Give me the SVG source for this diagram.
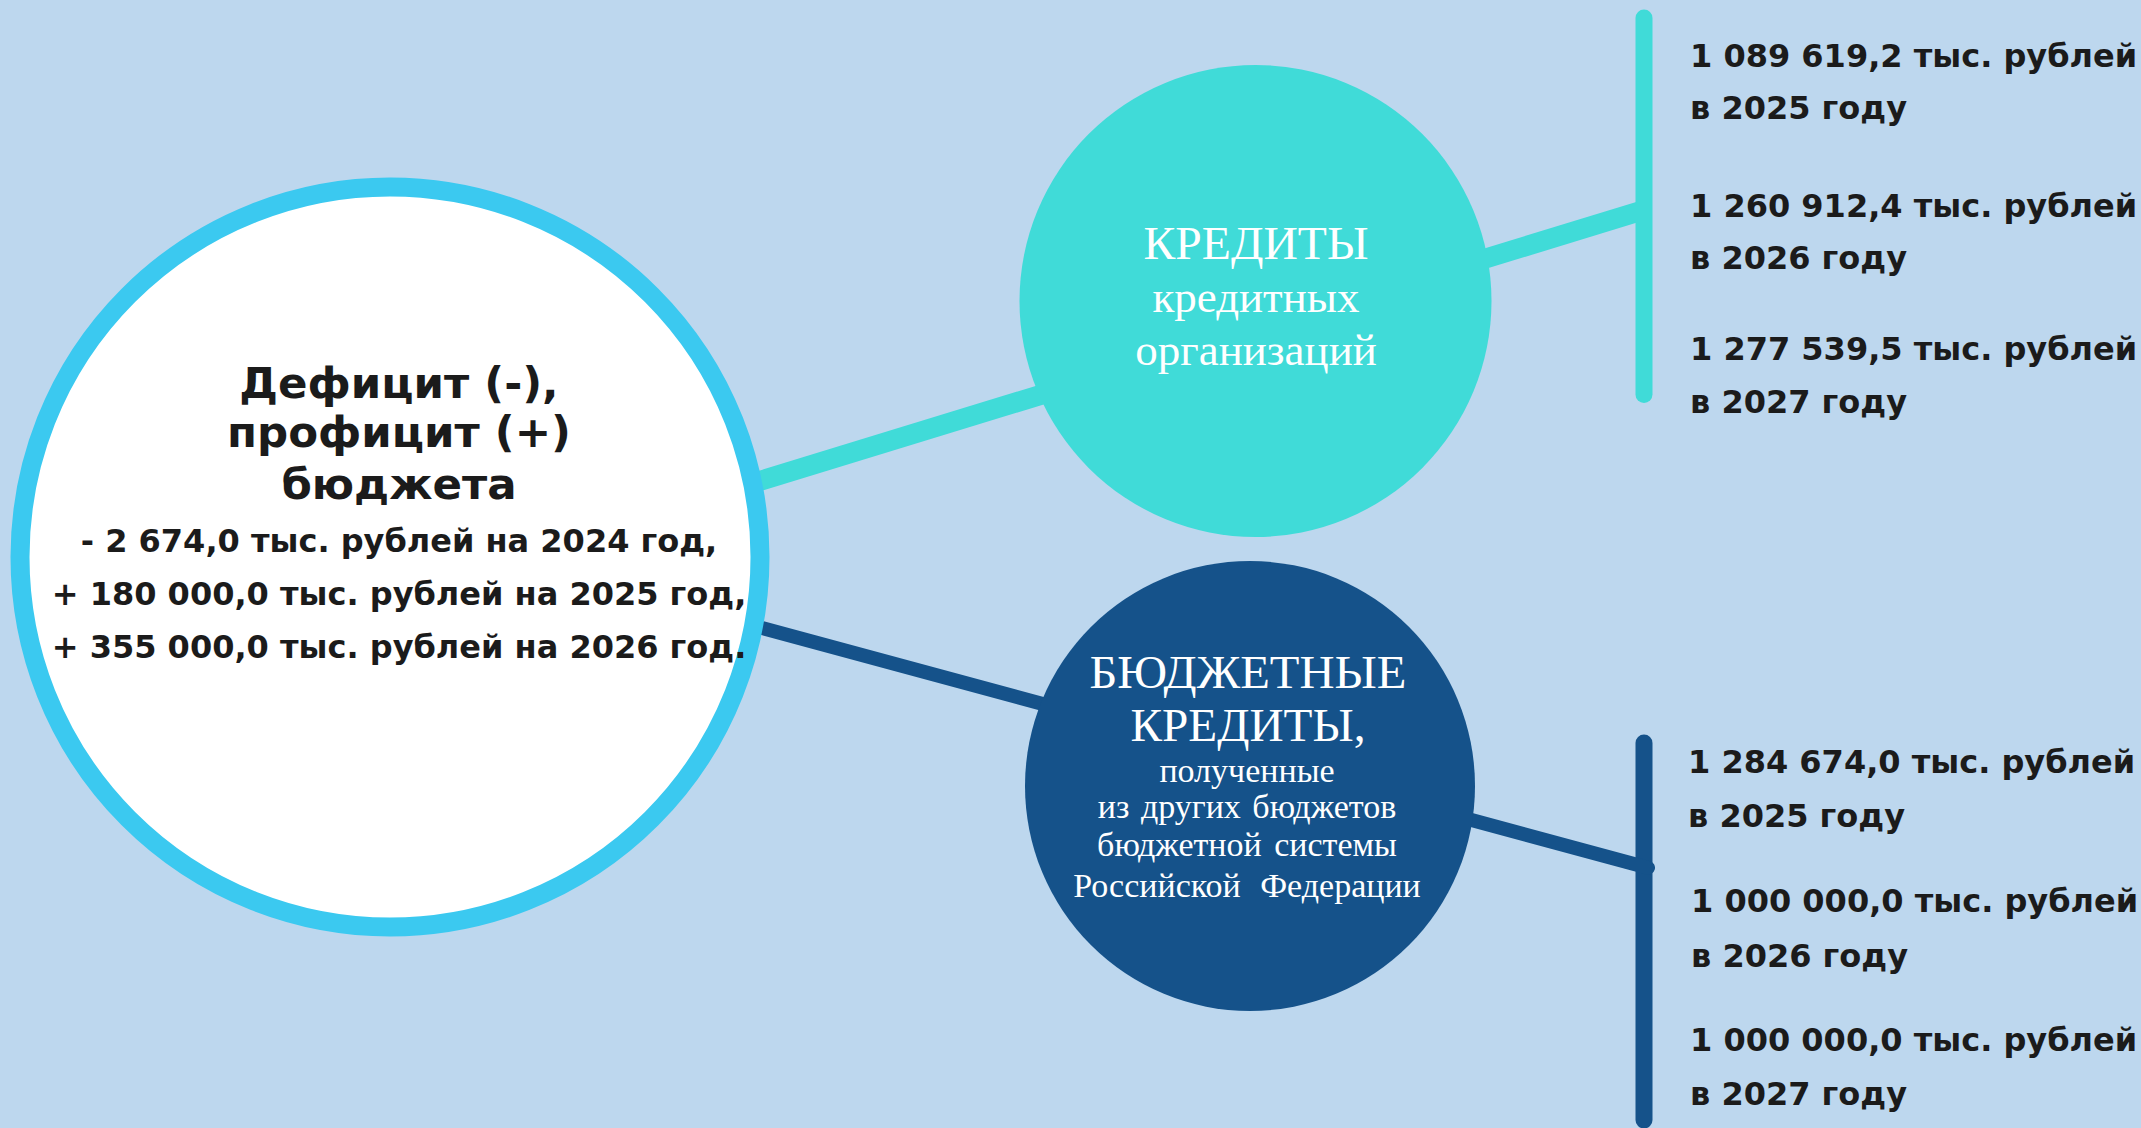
<svg xmlns="http://www.w3.org/2000/svg" width="2141" height="1128" viewBox="0 0 2141 1128">
  <style>
    .bold { font-family: "DejaVu Sans", Verdana, sans-serif; font-weight: bold; fill: #1b1b1b; }
    .head { font-size: 43.5px; text-anchor: middle; }
    .num { font-size: 32px; }
    .numc { font-size: 32px; text-anchor: middle; }
    .serif { font-family: "Liberation Serif", "Times New Roman", serif; fill: #ffffff; text-anchor: middle; }
    .big { font-size: 45px; }
    .caps { font-size: 46px; }
    .small { font-size: 34px; }
    .teal { stroke: #40dbd8; fill: none; }
    .dark { stroke: #15528a; fill: none; }
  </style>
  <rect x="0" y="0" width="2141" height="1128" fill="#bdd7ee"/>

  <g id="connectors">
    <line class="teal" x1="740" y1="487" x2="1644" y2="210" stroke-width="20"/>
    <line class="teal" x1="1644" y1="18" x2="1644" y2="394.5" stroke-width="17" stroke-linecap="round"/>
    <line class="dark" x1="1644" y1="743" x2="1644" y2="1120" stroke-width="17" stroke-linecap="round"/>
    <line class="dark" x1="745" y1="623.3" x2="1648" y2="867.7" stroke-width="14" stroke-linecap="round"/>
  </g>

  <g id="node-balance">
    <circle cx="390" cy="557" r="370" fill="#ffffff" stroke="#3bc9f0" stroke-width="19"/>
    <text class="bold head" x="399" y="398">Дефицит (-),</text>
    <text class="bold head" x="399" y="447">профицит (+)</text>
    <text class="bold head" x="399" y="499">бюджета</text>
    <text class="bold numc" x="399" y="552">- 2 674,0 тыс. рублей на 2024 год,</text>
    <text class="bold numc" x="399" y="605">+ 180 000,0 тыс. рублей на 2025 год,</text>
    <text class="bold numc" x="399" y="658">+ 355 000,0 тыс. рублей на 2026 год.</text>
  </g>

  <g id="node-credits">
    <circle cx="1255.5" cy="301" r="236" fill="#40dbd8"/>
    <text class="serif caps" x="1256" y="259" textLength="225" lengthAdjust="spacingAndGlyphs">КРЕДИТЫ</text>
    <text class="serif big" x="1256" y="312">кредитных</text>
    <text class="serif big" x="1256" y="365">организаций</text>
  </g>

  <g id="node-budget-credits">
    <circle cx="1250" cy="786" r="225" fill="#15528a"/>
    <text class="serif caps" x="1248" y="688" textLength="317" lengthAdjust="spacingAndGlyphs">БЮДЖЕТНЫЕ</text>
    <text class="serif caps" x="1248" y="741" textLength="235" lengthAdjust="spacingAndGlyphs">КРЕДИТЫ,</text>
    <text class="serif small" x="1247" y="782">полученные</text>
    <text class="serif small" x="1247" y="818" word-spacing="3">из других бюджетов</text>
    <text class="serif small" x="1247" y="856" word-spacing="4">бюджетной системы</text>
    <text class="serif small" x="1247" y="897" word-spacing="11">Российской Федерации</text>
  </g>

  <g id="values-credits">
    <text class="bold num" x="1690" y="67">1 089 619,2 тыс. рублей</text>
    <text class="bold num" x="1690" y="119">в 2025 году</text>
    <text class="bold num" x="1690" y="217">1 260 912,4 тыс. рублей</text>
    <text class="bold num" x="1690" y="269">в 2026 году</text>
    <text class="bold num" x="1690" y="360">1 277 539,5 тыс. рублей</text>
    <text class="bold num" x="1690" y="413">в 2027 году</text>
  </g>

  <g id="values-budget-credits">
    <text class="bold num" x="1688" y="773">1 284 674,0 тыс. рублей</text>
    <text class="bold num" x="1688" y="827">в 2025 году</text>
    <text class="bold num" x="1691" y="912">1 000 000,0 тыс. рублей</text>
    <text class="bold num" x="1691" y="967">в 2026 году</text>
    <text class="bold num" x="1690" y="1051">1 000 000,0 тыс. рублей</text>
    <text class="bold num" x="1690" y="1105">в 2027 году</text>
  </g>
</svg>
